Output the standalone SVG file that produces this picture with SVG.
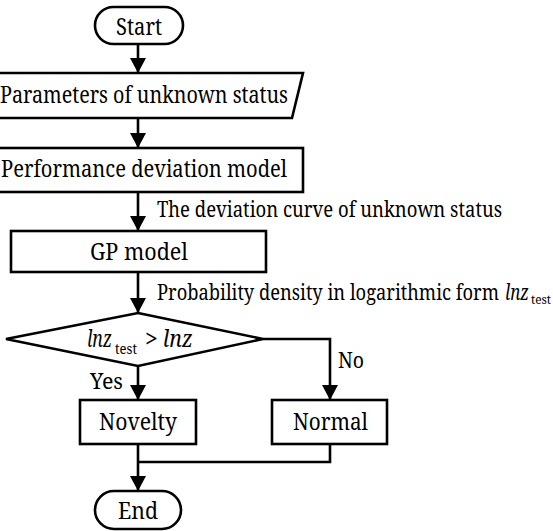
<svg xmlns="http://www.w3.org/2000/svg" width="553" height="531" viewBox="0 0 553 531" font-family="'Noto Serif', 'DejaVu Serif', serif">
<style>
.s{fill:#fff;stroke:#000;stroke-width:2.6}
.c{fill:none;stroke:#000;stroke-width:2.6}
text{font-family:"Noto Serif","DejaVu Serif",serif}
.t{font-size:23px}
.l{font-size:21px}
.i{font-style:italic}
</style>
<defs>
<marker id="ah" markerUnits="userSpaceOnUse" markerWidth="16" markerHeight="16" refX="15" refY="8" orient="auto">
<path d="M0,0 L15,8 L0,16 Z" fill="#000"/>
</marker>
</defs>
<g id="connectors">
<line class="c" x1="138" y1="44" x2="138" y2="73" marker-end="url(#ah)"/>
<line class="c" x1="138" y1="118" x2="138" y2="148" marker-end="url(#ah)"/>
<line class="c" x1="138" y1="192" x2="138" y2="231" marker-end="url(#ah)"/>
<line class="c" x1="138" y1="272" x2="138" y2="313" marker-end="url(#ah)"/>
<line class="c" x1="138" y1="366" x2="138" y2="400" marker-end="url(#ah)"/>
<polyline class="c" points="263,339 330,339 330,400" marker-end="url(#ah)"/>
<polyline class="c" points="330,444 330,462 138,462"/>
<line class="c" x1="138" y1="444" x2="138" y2="491" marker-end="url(#ah)"/>
<text class="l" x="157" y="217" textLength="345" lengthAdjust="spacingAndGlyphs">The deviation curve of unknown status</text>
<text class="l" x="157" y="300">
<tspan textLength="342" lengthAdjust="spacingAndGlyphs">Probability density in logarithmic form</tspan><tspan class="i" dx="6" textLength="24" lengthAdjust="spacingAndGlyphs">lnz</tspan><tspan font-size="12" dx="2" dy="4" textLength="20" lengthAdjust="spacingAndGlyphs">test</tspan></text>
<text class="l" x="90" y="389" textLength="33" lengthAdjust="spacingAndGlyphs">Yes</text>
<text class="l" x="338" y="368" textLength="26" lengthAdjust="spacingAndGlyphs">No</text>
</g>
<g id="start">
<rect class="s" x="95" y="7" width="88" height="37" rx="18.5"/>
<text class="t" x="116" y="35" textLength="46" lengthAdjust="spacingAndGlyphs">Start</text>
</g>
<g id="params">
<polygon class="s" points="-10,73 303,73 292,118 -21,118"/>
<text class="t" x="0" y="103" textLength="288" lengthAdjust="spacingAndGlyphs">Parameters of unknown status</text>
</g>
<g id="perf">
<rect class="s" x="-20" y="148" width="323" height="44"/>
<text class="t" x="1" y="177" textLength="286" lengthAdjust="spacingAndGlyphs">Performance deviation model</text>
</g>
<g id="gp">
<rect class="s" x="11" y="231" width="255" height="41"/>
<text class="t" x="90" y="260" textLength="98" lengthAdjust="spacingAndGlyphs">GP model</text>
</g>
<g id="decision">
<polygon class="s" points="138,313 263,339 138,366 6,339"/>
<text class="t" x="87" y="347"><tspan class="i" textLength="25" lengthAdjust="spacingAndGlyphs">lnz</tspan><tspan font-size="14" dx="3" dy="7" textLength="22" lengthAdjust="spacingAndGlyphs">test</tspan><tspan dx="8" dy="-7">&gt;</tspan><tspan class="i" dx="5" textLength="30" lengthAdjust="spacingAndGlyphs">lnz</tspan></text>
</g>
<g id="novelty">
<rect class="s" x="80" y="400" width="116" height="44"/>
<text class="t" x="99" y="430" textLength="78" lengthAdjust="spacingAndGlyphs">Novelty</text>
</g>
<g id="normal">
<rect class="s" x="272" y="400" width="115" height="44"/>
<text class="t" x="293" y="430" textLength="75" lengthAdjust="spacingAndGlyphs">Normal</text>
</g>
<g id="end">
<rect class="s" x="95" y="491" width="86" height="38" rx="19"/>
<text class="t" x="118" y="519" textLength="40" lengthAdjust="spacingAndGlyphs">End</text>
</g>
</svg>
